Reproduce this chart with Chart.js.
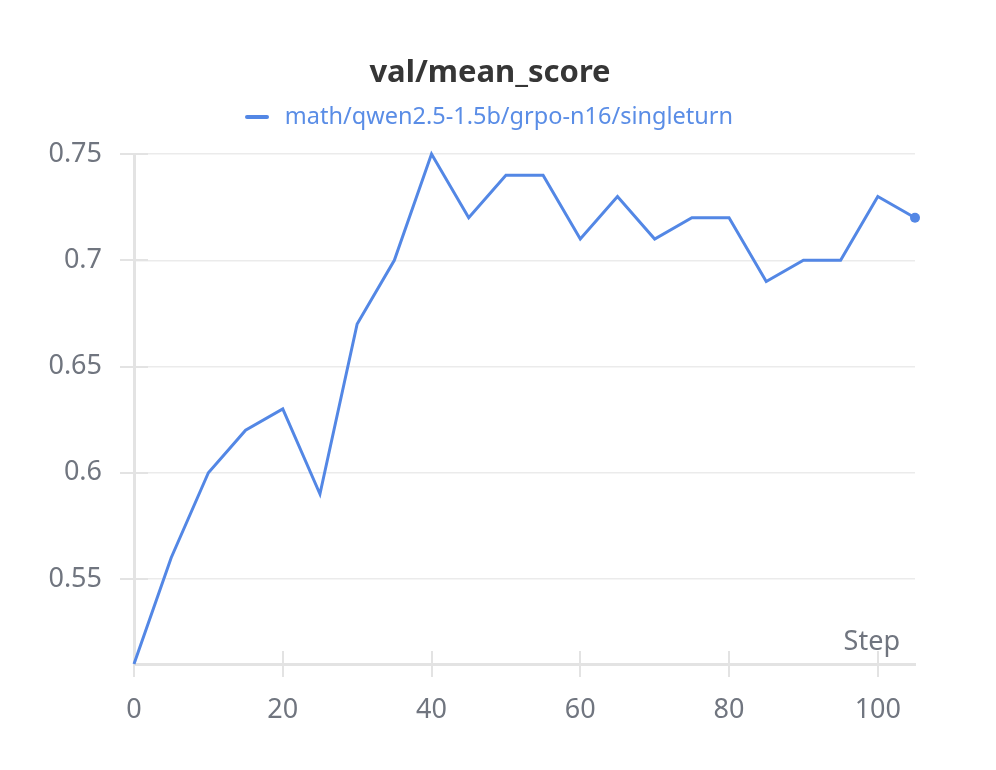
<!DOCTYPE html>
<html><head><meta charset="utf-8">
<script src="https://cdn.jsdelivr.net/npm/chart.js@4/dist/chart.umd.min.js"></script>
<style>html,body{margin:0;padding:0;background:#fff}#wrap{position:relative;width:980px;height:770px}</style>
</head><body><div id="wrap"><canvas id="c"></canvas></div>
<script>
const seriesName = 'math/qwen2.5-1.5b/grpo-n16/singleturn';
const steps = [0, 5, 10, 15, 20, 25, 30, 35, 40, 45, 50, 55, 60, 65, 70, 75, 80, 85, 90, 95, 100, 105];
const meanScore = [0.51, 0.56, 0.60, 0.62, 0.63, 0.59, 0.67, 0.70, 0.75, 0.72, 0.74, 0.74, 0.71, 0.73, 0.71, 0.72, 0.72, 0.69, 0.70, 0.70, 0.73, 0.72];
const xTickValues = [0, 20, 40, 60, 80, 100];
const yTickValues = [0.55, 0.6, 0.65, 0.7, 0.75];

const FONT = '"Noto Sans", "Open Sans", sans-serif';
const LINE = '#5387e5';
const TICK_TXT = '#70757f';
const AXIS = '#e3e3e3';

const axisDecor = {
  id: 'axisDecor',
  beforeDatasetsDraw(chart) {
    const {ctx, chartArea: a, scales: {x, y}} = chart;
    ctx.save();
    ctx.strokeStyle = AXIS; ctx.lineWidth = 2;
    ctx.beginPath();
    x.ticks.forEach(t => { const px = Math.round(x.getPixelForValue(t.value)); ctx.moveTo(px, a.bottom - 13); ctx.lineTo(px, a.bottom + 13); });
    y.ticks.forEach(t => { const py = Math.round(y.getPixelForValue(t.value)); ctx.moveTo(a.left - 14, py); ctx.lineTo(a.left + 14, py); });
    ctx.stroke();
    ctx.fillStyle = TICK_TXT; ctx.font = '27px ' + FONT; ctx.textAlign = 'right'; ctx.textBaseline = 'alphabetic';
    ctx.fillText('Step', a.right - 15, a.bottom - 14);
    ctx.restore();
  }
};

new Chart(document.getElementById('c'), {
  type: 'line',
  data: {
    datasets: [{
      label: seriesName,
      data: steps.map((s, i) => ({x: s, y: meanScore[i]})),
      borderColor: LINE,
      backgroundColor: LINE,
      borderWidth: 3,
      tension: 0,
      fill: false,
      clip: false,
      pointRadius: c => c.dataIndex === steps.length - 1 ? 5 : 0,
      pointBackgroundColor: LINE,
      pointBorderWidth: 0
    }]
  },
  plugins: [axisDecor],
  options: {
    animation: false,
    responsive: true,
    maintainAspectRatio: false,
    layout: {padding: {left: 0, right: 0, top: 0, bottom: 0}},
    plugins: {
      title: {display: true, text: 'val/mean_score', color: '#363636',
        font: {family: FONT, size: 31, weight: 'bold', lineHeight: 1.2},
        padding: {top: 55, bottom: 0}},
      subtitle: {display: true, text: '', weight: 100,
        font: {family: FONT, size: 10, lineHeight: 1.53}, padding: {top: 0, bottom: 0}},
      legend: {display: true, position: 'top',
        labels: {usePointStyle: true, pointStyle: 'line', pointStyleWidth: 20,
          color: '#5a8de6', font: {family: FONT, size: 23.5}, padding: 13,
          generateLabels: c => Chart.defaults.plugins.legend.labels.generateLabels(c).map(l => ({...l, text: ' ' + l.text, lineWidth: 4, lineCap: 'round', pointStyle: 'line'}))}},
      tooltip: {enabled: false}
    },
    scales: {
      x: {type: 'linear', min: 0, max: 105,
        afterBuildTicks: s => { s.ticks = xTickValues.map(v => ({value: v})); },
        afterFit: s => { s.height = 106; },
        grid: {display: false},
        border: {display: true, width: 3, color: AXIS},
        ticks: {padding: 22, color: TICK_TXT, font: {family: FONT, size: 27}, maxRotation: 0}},
      y: {type: 'linear', min: 0.51, max: 0.75,
        afterBuildTicks: s => { s.ticks = yTickValues.map(v => ({value: v})); },
        afterFit: s => { s.width = 134; },
        grid: {color: '#ebebeb', lineWidth: 1.5, drawTicks: false},
        border: {display: true, width: 3, color: AXIS},
        ticks: {padding: 32, color: TICK_TXT, font: {family: FONT, size: 27},
          callback: v => String(Number(v.toFixed(2)))}},
      rightGap: {type: 'linear', position: 'right', display: true,
        afterFit: s => { s.width = 65; },
        grid: {display: false}, border: {display: false}, ticks: {display: false}}
    }
  }
});
</script></body></html>
